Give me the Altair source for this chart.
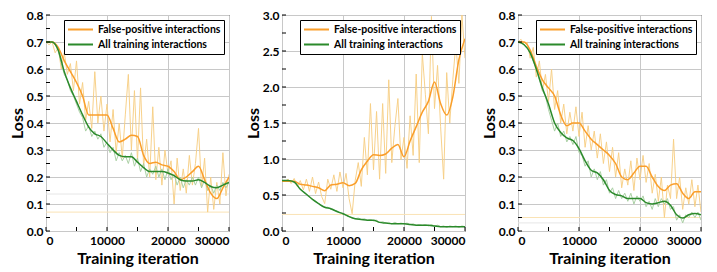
import altair as alt
import pandas as pd

# ---------------- data ----------------
FP_LABEL = "False-positive interactions"
ALL_LABEL = "All training interactions"

raw_step = 500
sm_step = 1000

# Panel 1
p1_fp_raw = [0.70, 0.69, 0.70, 0.66, 0.68, 0.60, 0.66, 0.58, 0.62, 0.52, 0.63, 0.47, 0.55, 0.41, 0.48, 0.38,
             0.59, 0.40, 0.50, 0.37, 0.47, 0.33, 0.45, 0.29, 0.40, 0.27, 0.43, 0.58, 0.30, 0.52, 0.26, 0.53,
             0.24, 0.34, 0.20, 0.46, 0.19, 0.31, 0.17, 0.30, 0.21, 0.26, 0.10, 0.27, 0.15, 0.23, 0.14, 0.28,
             0.17, 0.25, 0.38, 0.16, 0.27, 0.07, 0.20, 0.08, 0.18, 0.10, 0.29, 0.13, 0.21]
p1_all_raw = [0.70, 0.70, 0.70, 0.69, 0.67, 0.62, 0.58, 0.56, 0.52, 0.50, 0.47, 0.44, 0.42, 0.37, 0.39, 0.35,
              0.37, 0.34, 0.36, 0.31, 0.33, 0.29, 0.31, 0.26, 0.29, 0.26, 0.28, 0.25, 0.29, 0.24, 0.27, 0.22,
              0.25, 0.20, 0.23, 0.21, 0.24, 0.20, 0.23, 0.19, 0.23, 0.19, 0.21, 0.17, 0.20, 0.16, 0.19, 0.17,
              0.20, 0.17, 0.20, 0.16, 0.19, 0.15, 0.17, 0.14, 0.17, 0.15, 0.18, 0.16, 0.18]
p1_fp_sm = [0.70, 0.70, 0.68, 0.63, 0.59, 0.55, 0.50, 0.43, 0.43, 0.43, 0.43, 0.38, 0.33, 0.34, 0.355, 0.35,
            0.28, 0.25, 0.255, 0.245, 0.24, 0.22, 0.19, 0.20, 0.22, 0.24, 0.19, 0.14, 0.12, 0.16, 0.20]
p1_all_sm = [0.70, 0.70, 0.67, 0.59, 0.53, 0.48, 0.43, 0.385, 0.36, 0.35, 0.325, 0.30, 0.28, 0.275, 0.275,
             0.255, 0.235, 0.22, 0.22, 0.22, 0.215, 0.205, 0.19, 0.185, 0.185, 0.19, 0.18, 0.165, 0.16, 0.17, 0.18]
p1_hlines = [0.07, 0.137]

# Panel 2
p2_fp_raw = [0.70, 0.69, 0.72, 0.66, 0.73, 0.62, 0.70, 0.57, 0.72, 0.55, 0.75, 0.52, 0.68, 0.48, 0.38, 0.72,
             0.58, 0.78, 0.55, 0.82, 0.60, 0.80, 0.45, 0.24, 0.70, 0.95, 0.62, 1.30, 0.78, 1.77, 0.85, 1.66,
             0.72, 1.77, 0.80, 2.10, 0.95, 1.45, 1.84, 0.99, 1.30, 0.87, 1.60, 1.05, 2.18, 0.95, 2.47, 1.90,
             1.35, 2.98, 1.70, 2.30, 1.45, 0.72, 2.20, 1.50, 2.10, 2.60, 2.05, 3.00, 2.40]
p2_all_raw = [0.70, 0.70, 0.70, 0.69, 0.68, 0.64, 0.58, 0.55, 0.51, 0.48, 0.44, 0.42, 0.38, 0.35, 0.33, 0.33,
              0.30, 0.29, 0.28, 0.25, 0.24, 0.22, 0.20, 0.18, 0.17, 0.18, 0.16, 0.17, 0.15, 0.16, 0.14, 0.15,
              0.12, 0.13, 0.11, 0.12, 0.10, 0.12, 0.10, 0.11, 0.10, 0.11, 0.09, 0.10, 0.08, 0.09, 0.08, 0.09,
              0.07, 0.09, 0.07, 0.08, 0.06, 0.07, 0.05, 0.07, 0.06, 0.07, 0.05, 0.07, 0.06]
p2_fp_sm = [0.69, 0.69, 0.69, 0.65, 0.64, 0.62, 0.60, 0.56, 0.64, 0.65, 0.67, 0.63, 0.66, 0.85, 0.97, 1.06,
            1.05, 1.07, 1.15, 1.20, 1.03, 1.25, 1.45, 1.65, 1.80, 2.07, 1.77, 1.61, 1.86, 2.38, 2.67]
p2_all_sm = [0.70, 0.70, 0.68, 0.58, 0.51, 0.44, 0.38, 0.33, 0.31, 0.27, 0.24, 0.20, 0.17, 0.16, 0.15, 0.15,
             0.12, 0.11, 0.10, 0.10, 0.10, 0.09, 0.08, 0.08, 0.08, 0.07, 0.06, 0.06, 0.06, 0.06, 0.06]
p2_hlines = [0.23]

# Panel 3
p3_fp_raw = [0.70, 0.71, 0.69, 0.70, 0.64, 0.68, 0.57, 0.63, 0.52, 0.58, 0.48, 0.60, 0.45, 0.52, 0.40, 0.47,
             0.36, 0.44, 0.37, 0.46, 0.35, 0.44, 0.31, 0.39, 0.30, 0.37, 0.27, 0.36, 0.25, 0.33, 0.22, 0.31,
             0.20, 0.29, 0.16, 0.23, 0.17, 0.26, 0.15, 0.27, 0.19, 0.28, 0.18, 0.25, 0.14, 0.21, 0.11, 0.20,
             0.05, 0.17, 0.12, 0.34, 0.12, 0.20, 0.08, 0.16, 0.10, 0.19, 0.09, 0.17, 0.07]
p3_all_raw = [0.70, 0.70, 0.69, 0.68, 0.66, 0.63, 0.60, 0.56, 0.52, 0.50, 0.45, 0.41, 0.37, 0.40, 0.35, 0.37,
              0.33, 0.35, 0.32, 0.35, 0.29, 0.28, 0.24, 0.26, 0.20, 0.23, 0.19, 0.22, 0.17, 0.19, 0.14, 0.16,
              0.12, 0.15, 0.12, 0.14, 0.11, 0.14, 0.10, 0.13, 0.11, 0.13, 0.09, 0.11, 0.08, 0.12, 0.09, 0.12,
              0.10, 0.12, 0.08, 0.09, 0.04, 0.06, 0.03, 0.06, 0.05, 0.07, 0.05, 0.07, 0.04]
p3_fp_sm = [0.70, 0.70, 0.67, 0.61, 0.56, 0.53, 0.50, 0.43, 0.39, 0.40, 0.40, 0.37, 0.34, 0.32, 0.30, 0.28,
            0.25, 0.20, 0.19, 0.215, 0.24, 0.24, 0.20, 0.165, 0.15, 0.17, 0.175, 0.14, 0.12, 0.145, 0.145]
p3_all_sm = [0.70, 0.69, 0.66, 0.60, 0.53, 0.47, 0.40, 0.365, 0.345, 0.335, 0.305, 0.26, 0.225, 0.215, 0.19,
             0.15, 0.135, 0.13, 0.12, 0.12, 0.12, 0.105, 0.10, 0.105, 0.11, 0.095, 0.06, 0.048, 0.06, 0.065, 0.06]
p3_hlines = [0.05, 0.03]

x_ticks = [0, 10000, 20000, 30000]
x_minor = [0, 5000, 10000, 15000, 20000, 25000, 30000]

# ---------------- styling ----------------
FONT = "Lato"
C_FP = "#FA9E2A"
C_ALL = "#2B8A2B"
C_FP_RAW = "#F7CF85"
C_ALL_RAW = "#A6CDA0"
HLINE_COLORS = ["#FAE3B5", "#E6E6E6"]
W, H = 183, 216


def series_df(vals, step):
    return pd.DataFrame({"iter": [i * step for i in range(len(vals))], "loss": vals})


def panel(fp_raw, all_raw, fp_sm, all_sm, hlines, ymax, ystep):
    nmaj = int(round(ymax / ystep))
    y_ticks = [round(i * ystep, 3) for i in range(nmaj + 1)]
    y_minor = [round(i * ystep / 2, 4) for i in range(2 * nmaj + 1)]

    xs = alt.Scale(domain=[0, 30000], nice=False)
    ys = alt.Scale(domain=[0, ymax], nice=False)
    xax = alt.Axis(values=x_ticks, format="d", title="Training iteration", grid=True,
                   labelPadding=4, titlePadding=4)
    yax = alt.Axis(values=y_ticks, format=".1f", title="Loss", grid=True)

    base_x = alt.X("iter:Q", scale=xs, axis=xax)
    base_y = alt.Y("loss:Q", scale=ys, axis=yax)

    hl = pd.DataFrame({"loss": hlines, "k": list(range(len(hlines)))})
    hrule = alt.Chart(hl).mark_rule(strokeWidth=1).encode(
        y=alt.Y("loss:Q", scale=ys, axis=yax),
        color=alt.Color("k:N", scale=alt.Scale(range=HLINE_COLORS), legend=None),
    )

    raw_fp = alt.Chart(series_df(fp_raw, raw_step)).mark_line(
        color=C_FP_RAW, strokeWidth=1, opacity=0.95, clip=True
    ).encode(x=base_x, y=base_y)
    raw_all = alt.Chart(series_df(all_raw, raw_step)).mark_line(
        color=C_ALL_RAW, strokeWidth=1, opacity=0.95, clip=True
    ).encode(x=base_x, y=base_y)

    sm = pd.concat([
        series_df(fp_sm, sm_step).assign(series=FP_LABEL),
        series_df(all_sm, sm_step).assign(series=ALL_LABEL),
    ])
    smooth = alt.Chart(sm).mark_line(strokeWidth=1.5, clip=True, interpolate="monotone").encode(
        x=base_x, y=base_y,
        color=alt.Color("series:N",
                        scale=alt.Scale(domain=[FP_LABEL, ALL_LABEL], range=[C_FP, C_ALL]),
                        legend=alt.Legend(title=None, orient="top-right", offset=5)),
        detail="series:N",
    )

    xt = alt.Chart(pd.DataFrame({"iter": x_minor})).mark_rule(color="#000", strokeWidth=1).encode(
        x=alt.X("iter:Q", scale=xs, axis=xax), y=alt.value(H), y2=alt.value(H - 4))
    yt = alt.Chart(pd.DataFrame({"loss": y_minor})).mark_rule(color="#000", strokeWidth=1).encode(
        y=alt.Y("loss:Q", scale=ys, axis=yax), x=alt.value(0), x2=alt.value(4))

    return alt.layer(hrule, raw_fp, raw_all, smooth, xt, yt).resolve_scale(color="independent").properties(
        width=W, height=H)


c1 = panel(p1_fp_raw, p1_all_raw, p1_fp_sm, p1_all_sm, p1_hlines, 0.8, 0.1)
c2 = panel(p2_fp_raw, p2_all_raw, p2_fp_sm, p2_all_sm, p2_hlines, 3.0, 0.5)
c3 = panel(p3_fp_raw, p3_all_raw, p3_fp_sm, p3_all_sm, p3_hlines, 0.8, 0.1)

chart = alt.hconcat(c1, c2, c3, spacing=53, bounds="flush").configure_view(
    stroke="#000", strokeWidth=1
).configure_axis(
    labelFont=FONT, labelFontWeight="bold", labelFontSize=12, labelColor="#000",
    titleFont=FONT, titleFontWeight="bold", titleFontSize=16, titleColor="#000",
    domain=False, ticks=False, labelPadding=3, titlePadding=1,
    gridColor="#C8C8C8", gridWidth=1,
).configure_legend(
    labelFont=FONT, labelFontWeight="bold", labelFontSize=10.5, labelColor="#000",
    symbolType="stroke", symbolSize=625, symbolStrokeWidth=2,
    strokeColor="#000", fillColor="#fff", padding=3, rowPadding=2, labelOffset=4,
    clipHeight=13, labelLimit=300,
).properties(padding={"left": 0, "top": 0, "right": 0, "bottom": 0})

chart.save("out.html", embed_options={"renderer": "svg", "actions": False})
